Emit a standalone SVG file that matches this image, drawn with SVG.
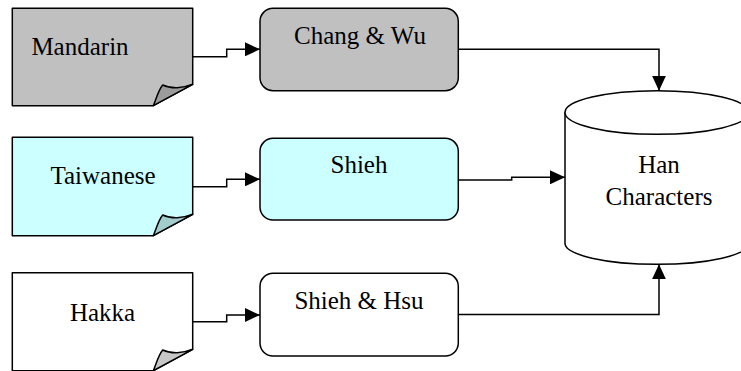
<svg xmlns="http://www.w3.org/2000/svg" width="741" height="371" viewBox="0 0 741 371">
  <style>
    .shape { stroke: #000; stroke-width: 1.5; stroke-linejoin: round; }
    .grey { fill: #c0c0c0; }
    .cyan { fill: #ccffff; }
    .white { fill: #ffffff; }
    .fold-grey { fill: #9c9c9c; }
    .fold-cyan { fill: #a3cccc; }
    .fold-white { fill: #c8c8c8; }
    .label { font-size: 25px; fill: #000; text-anchor: middle; }
    .wire { fill: none; stroke: #000; stroke-width: 1.5; marker-end: url(#arrow); }
  </style>
  <defs>
    <marker id="arrow" markerUnits="userSpaceOnUse" viewBox="0 0 15 14" refX="15" refY="7" markerWidth="15" markerHeight="14" orient="auto">
      <path d="M0,0 L15,7 L0,14 Z" fill="#000"/>
    </marker>
  </defs>

  <rect width="741" height="371" fill="#ffffff"/>

  <g font-family="'Liberation Serif', Tinos, 'DejaVu Serif', serif">
  <!-- source documents -->
  <g id="doc-mandarin">
    <path class="shape grey" d="M12.3,8.3 H192.7 V84.3 L153.3,105.7 H12.3 Z"/>
    <path class="shape fold-grey" d="M153.3,105.7 C156.5,98 158.5,90 162.7,85 C171,89 183,88.5 192.7,84.3 Z"/>
    <text class="label" x="80" y="55">Mandarin</text>
  </g>
  <g id="doc-taiwanese">
    <path class="shape cyan" d="M12.3,137.3 H192.7 V214.3 L153.3,235.7 H12.3 Z"/>
    <path class="shape fold-cyan" d="M153.3,235.7 C156.5,228 158.5,220 162.7,215 C171,219 183,218.5 192.7,214.3 Z"/>
    <text class="label" x="103" y="184.3">Taiwanese</text>
  </g>
  <g id="doc-hakka">
    <path class="shape white" d="M12.3,272.7 H192.7 V349.3 L153.3,370.7 H12.3 Z"/>
    <path class="shape fold-white" d="M153.3,370.7 C156.5,363 158.5,355 162.7,350 C171,354 183,353.5 192.7,349.3 Z"/>
    <text class="label" x="102.5" y="320.7">Hakka</text>
  </g>

  <!-- conversion processes -->
  <g id="proc-chang-wu">
    <rect class="shape grey" x="260" y="8.3" width="198.3" height="82.4" rx="13" ry="13"/>
    <text class="label" x="360" y="44.3">Chang &amp; Wu</text>
  </g>
  <g id="proc-shieh">
    <rect class="shape cyan" x="260" y="138.3" width="198.3" height="81.7" rx="13" ry="13"/>
    <text class="label" x="359" y="173.3">Shieh</text>
  </g>
  <g id="proc-shieh-hsu">
    <rect class="shape white" x="260" y="273.3" width="198.3" height="82.7" rx="13" ry="13"/>
    <text class="label" x="359" y="309">Shieh &amp; Hsu</text>
  </g>

  <!-- character store -->
  <g id="store-han">
    <path class="shape white" d="M565,112.5 V243.3 A92,21 0 0 0 749,243.3 V112.5 Z"/>
    <ellipse class="shape white" cx="657" cy="112.5" rx="92" ry="21.8"/>
    <text class="label" x="659" y="173.3">Han</text>
    <text class="label" x="659" y="205">Characters</text>
  </g>
  </g>

  <!-- connectors -->
  <g id="connectors">
    <path class="wire" d="M192.7,56.7 H226.7 V49.3 H260"/>
    <path class="wire" d="M192.7,186.7 H226.7 V179.3 H260"/>
    <path class="wire" d="M192.7,321.7 H226.7 V315 H260"/>
    <path class="wire" d="M458.3,49.3 H659 V90.7"/>
    <path class="wire" d="M458.3,180 H511.7 V177.3 H565"/>
    <path class="wire" d="M458.3,314.5 H659 V264.3"/>
  </g>
</svg>
